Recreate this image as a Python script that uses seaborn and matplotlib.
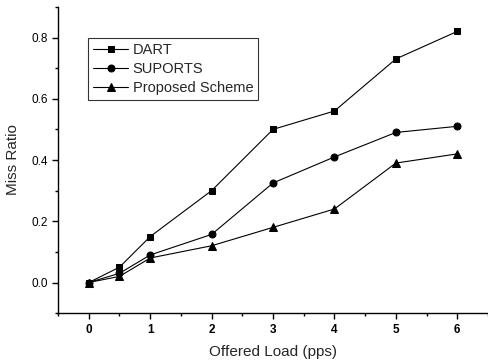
import matplotlib
matplotlib.use("Agg")
import matplotlib.pyplot as plt
import seaborn as sns
import pandas as pd
from matplotlib.ticker import MultipleLocator

load = [0, 0.5, 1, 2, 3, 4, 5, 6]
dart = [0.0, 0.05, 0.15, 0.30, 0.50, 0.56, 0.73, 0.82]
suports = [0.0, 0.03, 0.09, 0.157, 0.325, 0.41, 0.49, 0.51]
proposed = [0.0, 0.02, 0.08, 0.12, 0.18, 0.24, 0.39, 0.42]
series_names = ["DART", "SUPORTS", "Proposed Scheme"]
markers = ["s", "o", "^"]
x_ticks = [0, 1, 2, 3, 4, 5, 6]
y_ticks = [0.0, 0.2, 0.4, 0.6, 0.8]

sns.set_style("ticks")
plt.rcParams['font.family'] = ['Liberation Sans', 'DejaVu Sans']

df = pd.DataFrame({
    "load": load * 3,
    "ratio": dart + suports + proposed,
    "series": sum([[n] * len(load) for n in series_names], []),
})

fig = plt.figure(figsize=(4.88, 3.62), dpi=100)
ax = fig.add_axes([0.119, 0.135, 0.881, 0.846])

for name, m in zip(series_names, markers):
    sub = df[df["series"] == name]
    sns.lineplot(data=sub, x="load", y="ratio", ax=ax, color="black",
                 marker=m, markersize=5 if m != "^" else 6, linewidth=0.8,
                 markeredgecolor="black", label=name)

ax.set_xlim(-0.5, 6.5)
ax.set_ylim(-0.1, 0.9)
ax.set_xticks(x_ticks)
ax.set_yticks(y_ticks)
ax.set_xticklabels([str(t) for t in x_ticks], fontweight="bold", fontsize=8.5)
ax.set_yticklabels([f"{t:.1f}" for t in y_ticks], fontsize=8.5)
ax.xaxis.set_minor_locator(MultipleLocator(0.5))
ax.yaxis.set_minor_locator(MultipleLocator(0.1))
ax.tick_params(which="major", direction="out", length=4, width=1, color="black", labelcolor="black")
ax.tick_params(which="minor", direction="out", length=2.5, width=1, color="black")
for s in ["top", "right"]:
    ax.spines[s].set_visible(False)
for s in ["left", "bottom"]:
    ax.spines[s].set_color("black")
    ax.spines[s].set_linewidth(1.0)

ax.set_xlabel("Offered Load (pps)", fontsize=11, labelpad=7)
ax.set_ylabel("Miss Ratio", fontsize=11, labelpad=8)

leg = ax.legend(loc="upper left", bbox_to_anchor=(0.07, 0.9), frameon=True,
                fancybox=False, edgecolor="black", fontsize=10.5,
                handlelength=2.4, handletextpad=0.3, labelspacing=0.35,
                borderpad=0.35, borderaxespad=0)
leg.get_frame().set_linewidth(0.8)

fig.savefig("out.png", dpi=100)
